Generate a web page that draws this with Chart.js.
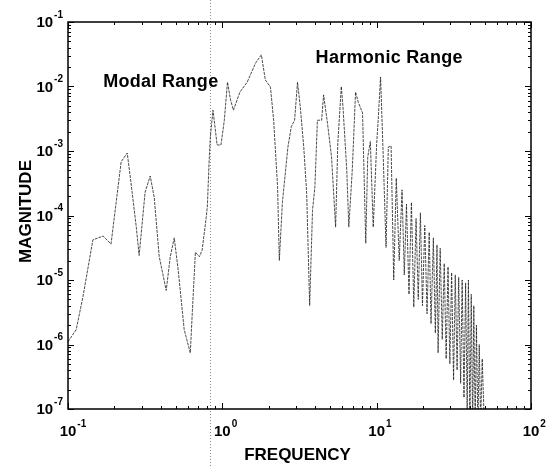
<!DOCTYPE html>
<html>
<head>
<meta charset="utf-8">
<script src="https://cdn.jsdelivr.net/npm/chart.js@4.4.1/dist/chart.umd.min.js"></script>
<style>
  html, body { margin: 0; padding: 0; background: #fff; }
  canvas { display: block; }
</style>
</head>
<body>
<canvas id="spectrum" width="547" height="466"></canvas>
<script>
// spectrum (frequency, magnitude)
const frequency = [
  0.100, 0.113, 0.125, 0.145, 0.169, 0.190, 0.221, 0.242, 0.256, 0.277,
  0.289, 0.316, 0.341, 0.362, 0.390, 0.433, 0.460, 0.488, 0.518, 0.566,
  0.620, 0.640, 0.669, 0.710, 0.740, 0.787, 0.800, 0.820, 0.836, 0.870,
  0.925, 0.980, 1.03, 1.08, 1.13, 1.18, 1.30, 1.45, 1.64, 1.79,
  1.90, 2.05, 2.15, 2.28, 2.34, 2.45, 2.66, 2.80, 2.94, 3.07,
  3.20, 3.37, 3.52, 3.68, 3.84, 3.98, 4.13, 4.40, 4.53, 4.80,
  5.10, 5.42, 5.60, 5.90, 6.05, 6.40, 6.60, 6.95, 7.30, 7.60,
  8.10, 8.50, 8.75, 9.10, 9.50, 10.0, 10.2, 10.6, 11.0, 11.5,
  11.9, 12.4, 12.9, 13.4, 14.0, 14.6, 15.1, 15.6, 16.2, 16.8,
  17.4, 18.0, 18.6, 19.2, 19.8, 20.5, 21.2, 21.9, 22.5, 23.3,
  24.0, 24.6, 25.0, 25.8, 26.6, 27.4, 28.2, 29.0, 29.8, 30.6,
  31.5, 32.3, 33.2, 34.0, 35.0, 35.8, 36.8, 37.7, 38.6, 39.3,
  40.2, 41.0, 41.9, 42.6, 43.5, 44.3, 45.3, 46.2, 47.2, 48.3,
  49.6
];
const magnitude = [
  1.1e-6, 1.7e-6, 5.5e-6, 4.2e-5, 4.8e-5, 3.6e-5, 6.8e-4, 9.3e-4, 3.2e-4, 6.6e-5,
  2.4e-5, 2.3e-4, 4.1e-4, 1.9e-4, 2.3e-5, 6.9e-6, 2.3e-5, 4.5e-5, 1.4e-5, 1.7e-6,
  7.4e-7, 3.4e-6, 2.7e-5, 2.3e-5, 2.9e-5, 9.5e-5, 1.4e-4, 6.5e-4, 1.65e-3, 4.3e-3,
  1.24e-3, 1.24e-3, 3.0e-3, 1.17e-2, 6.2e-3, 4.3e-3, 8.2e-3, 1.17e-2, 2.3e-2, 3.1e-2,
  1.26e-2, 9.8e-3, 3.0e-3, 2.8e-4, 2.0e-5, 1.6e-4, 1.15e-3, 2.4e-3, 3.0e-3, 1.17e-2,
  4.8e-3, 1.15e-3, 2.2e-4, 4.0e-6, 1.2e-4, 2.8e-4, 3.0e-3, 3.0e-3, 7.4e-3, 2.7e-3,
  8.1e-4, 6.6e-5, 1.3e-3, 1.0e-2, 4.8e-3, 5.1e-4, 6.6e-5, 5.1e-4, 8.2e-3, 5.7e-3,
  3.9e-3, 3.7e-5, 8.0e-4, 1.4e-3, 6.6e-5, 1.3e-3, 2.7e-3, 1.4e-2, 1.0e-3, 3.2e-5,
  1.15e-3, 1.2e-3, 1.0e-5, 3.8e-4, 2.0e-5, 2.5e-4, 1.2e-5, 1.5e-4, 6.0e-6, 1.6e-4,
  3.8e-6, 9.0e-5, 5.0e-6, 1.1e-4, 4.0e-6, 7.0e-5, 3.0e-6, 5.5e-5, 2.1e-6, 4.5e-5,
  1.5e-6, 3.5e-5, 7.4e-7, 3.1e-5, 1.2e-6, 1.8e-5, 6.0e-7, 1.6e-5, 5.0e-7, 1.3e-5,
  2.8e-7, 1.2e-5, 4.0e-7, 1.1e-5, 2.5e-7, 1.0e-5, 1.5e-7, 9.0e-6, 8.0e-8, 1.0e-5,
  6.0e-8, 6.0e-6, 5.0e-8, 4.0e-6, 5.0e-8, 2.0e-6, 5.0e-8, 1.0e-6, 6.0e-8, 6.0e-7,
  8.0e-8
];
const xDecades = [-1, 0, 1, 2];
const yDecades = [-7, -6, -5, -4, -3, -2, -1];
const dividerFreq = 0.835;
const rangeNames = ["Modal Range", "Harmonic Range"];
const rangeAnchorFreq = [0.169, 4.02];
const rangeAnchorMag = [9.8e-3, 2.3e-2];

const FONT = "'Liberation Sans', Arial, sans-serif";

const drawPower = (ctx, exp, x, y, mode) => {
  ctx.fillStyle = "#000";
  ctx.textBaseline = "middle";
  ctx.font = "bold 15px " + FONT;
  const baseW = ctx.measureText("10").width;
  ctx.font = "bold 10px " + FONT;
  const expText = String(exp);
  const expW = ctx.measureText(expText).width;
  let bx;
  if (mode === "x") {
    bx = x - baseW / 2;
  } else {
    bx = x - expW - 1 - baseW;
  }
  ctx.font = "bold 15px " + FONT;
  ctx.textAlign = "left";
  ctx.fillText("10", bx, y);
  ctx.font = "bold 10px " + FONT;
  ctx.fillText(expText, bx + baseW + 1, y - 8);
};

const axisDecor = {
  id: "axisDecor",
  beforeDatasetsDraw(chart) {
    const { ctx, scales: { x } } = chart;
    const px = Math.round(x.getPixelForValue(dividerFreq)) + 0.5;
    ctx.save();
    ctx.strokeStyle = "#8a8a8a";
    ctx.lineWidth = 1;
    ctx.setLineDash([1, 2]);
    ctx.beginPath();
    ctx.moveTo(px, 0);
    ctx.lineTo(px, chart.height);
    ctx.stroke();
    ctx.restore();
  },
  afterDraw(chart) {
    const { ctx, chartArea: a, scales: { x, y } } = chart;
    ctx.save();
    ctx.strokeStyle = "#000";
    ctx.lineWidth = 1.5;
    ctx.strokeRect(a.left, a.top, a.right - a.left, a.bottom - a.top);

    // inward ticks on all four sides
    ctx.lineWidth = 1;
    ctx.beginPath();
    xDecades.forEach((d) => {
      for (let k = 1; k <= 9; k++) {
        const v = k * Math.pow(10, d);
        if (v > 100.0001) break;
        const px = Math.round(x.getPixelForValue(v)) + 0.5;
        const len = k === 1 ? 6 : 3;
        ctx.moveTo(px, a.bottom);
        ctx.lineTo(px, a.bottom - len);
        ctx.moveTo(px, a.top);
        ctx.lineTo(px, a.top + len);
      }
    });
    yDecades.forEach((d) => {
      for (let k = 1; k <= 9; k++) {
        const v = k * Math.pow(10, d);
        if (v > 0.100001) break;
        const py = Math.round(y.getPixelForValue(v)) + 0.5;
        const len = k === 1 ? 6 : 3;
        ctx.moveTo(a.left, py);
        ctx.lineTo(a.left + len, py);
        ctx.moveTo(a.right, py);
        ctx.lineTo(a.right - len, py);
      }
    });
    ctx.stroke();

    // tick labels
    xDecades.forEach((d) => {
      drawPower(ctx, d, x.getPixelForValue(Math.pow(10, d)), a.bottom + 23, "x");
    });
    yDecades.forEach((d) => {
      drawPower(ctx, d, a.left - 5, y.getPixelForValue(Math.pow(10, d)) + 1, "y");
    });

    // axis titles
    ctx.fillStyle = "#000";
    ctx.font = "bold 17px " + FONT;
    ctx.textAlign = "center";
    ctx.textBaseline = "middle";
    ctx.fillText("FREQUENCY", (a.left + a.right) / 2 - 2, 455);
    ctx.save();
    ctx.translate(26, (a.top + a.bottom) / 2 - 4);
    ctx.rotate(-Math.PI / 2);
    ctx.fillText("MAGNITUDE", 0, 0);
    ctx.restore();

    // range annotations
    ctx.textAlign = "left";
    ctx.textBaseline = "alphabetic";
    ctx.font = "bold 18px " + FONT;
    ctx.letterSpacing = "0.3px";
    rangeNames.forEach((name, i) => {
      ctx.fillText(name, x.getPixelForValue(rangeAnchorFreq[i]), y.getPixelForValue(rangeAnchorMag[i]));
    });
    ctx.restore();
  },
};

const ctx = document.getElementById("spectrum").getContext("2d");

new Chart(ctx, {
  type: "line",
  data: {
    datasets: [
      {
        label: "Magnitude",
        data: frequency.map((f, i) => ({ x: f, y: magnitude[i] })),
        borderColor: "rgba(30, 30, 30, 0.8)",
        borderWidth: 1,
        borderDash: [3, 1],
        pointRadius: 0,
        tension: 0,
        fill: false,
      },
    ],
  },
  options: {
    responsive: false,
    animation: false,
    devicePixelRatio: 1,
    layout: {
      padding: { left: 68, top: 22, right: 16, bottom: 57 },
    },
    scales: {
      x: { type: "logarithmic", min: 0.1, max: 100, display: false },
      y: { type: "logarithmic", min: 1e-7, max: 1e-1, display: false },
    },
    plugins: {
      legend: { display: false },
      tooltip: { enabled: false },
    },
  },
  plugins: [axisDecor],
});
</script>
</body>
</html>
